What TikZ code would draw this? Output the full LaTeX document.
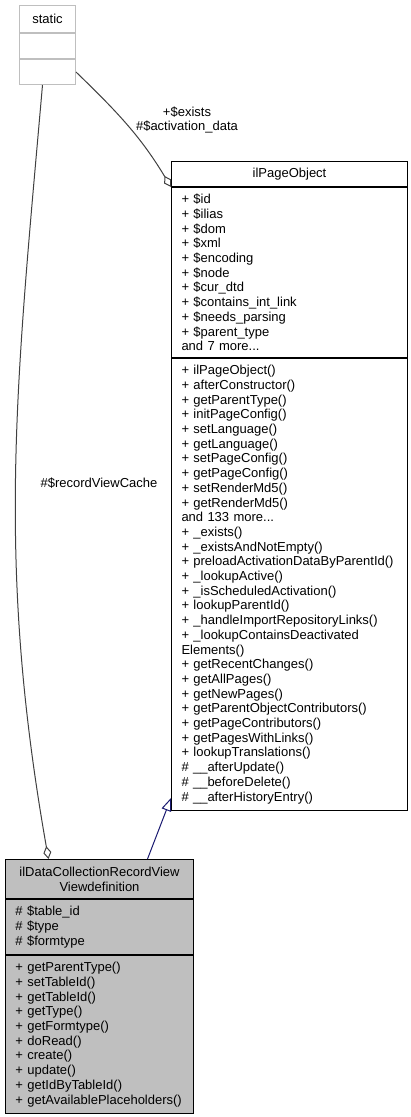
\documentclass[tikz,border=0pt]{standalone}
\usepackage{fontspec}
\setmainfont{Liberation Sans}
\usetikzlibrary{arrows.meta}
\definecolor{grey75}{HTML}{BFBFBF}
\definecolor{grey25}{HTML}{404040}
\definecolor{midblue}{HTML}{191970}
\begin{document}
\begin{tikzpicture}[x=1pt,y=1pt,
  every node/.style={font=\fontsize{13}{14.7}\selectfont, inner sep=0pt},
  part/.style={draw=black, line width=1pt, anchor=north west, align=left, inner xsep=10pt},
  head/.style={part, align=center},
  greypart/.style={part, draw=grey75, minimum width=56pt},
  aggr/.style={grey25, line width=1pt, {Diamond[open,length=13pt,width=8pt]}-},
  inherit/.style={midblue, line width=1pt, -{Triangle[open,length=13pt,width=10pt]}}]
\useasboundingbox (0,0) rectangle (411,-1117);
\node[greypart, align=center, minimum height=27pt] (stattitle) at (19,-5) {static};
\node[greypart, minimum height=25pt] (statattr) at (stattitle.south west) {};
\node[greypart, minimum height=25pt] (statmeth) at (statattr.south west) {};
\node[head, text width=216pt, minimum height=25pt] (pagetitle) at (171,-161) {ilPageObject};
\node[part, text width=216pt, minimum height=170pt] (pageattr) at (pagetitle.south west)
  {+~\$id\\+~\$ilias\\+~\$dom\\+~\$xml\\+~\$encoding\\+~\$node\\+~\$cur\_dtd\\
   +~\$contains\_int\_link\\+~\$needs\_parsing\\+~\$parent\_type\\and~7~more...};
\node[part, text width=216pt, minimum height=452pt] (pagemeth) at (pageattr.south west)
  {+~ilPageObject()\\+~afterConstructor()\\+~getParentType()\\+~initPageConfig()\\
   +~setLanguage()\\+~getLanguage()\\+~setPageConfig()\\+~getPageConfig()\\
   +~setRenderMd5()\\+~getRenderMd5()\\and~133~more...\\+~\_exists()\\
   +~\_existsAndNotEmpty()\\+~preloadActivationDataByParentId()\\+~\_lookupActive()\\
   +~\_isScheduledActivation()\\+~lookupParentId()\\+~\_handleImportRepositoryLinks()\\
   +~\_lookupContainsDeactivated\\Elements()\\+~getRecentChanges()\\+~getAllPages()\\
   +~getNewPages()\\+~getParentObjectContributors()\\+~getPageContributors()\\
   +~getPagesWithLinks()\\+~lookupTranslations()\\\#~\_\_afterUpdate()\\
   \#~\_\_beforeDelete()\\\#~\_\_afterHistoryEntry()};
\node[head, fill=grey75, text width=168pt, minimum height=39pt] (viewtitle) at (5,-859)
  {ilDataCollectionRecordView\\Viewdefinition};
\node[part, fill=grey75, text width=168pt, minimum height=55pt] (viewattr) at (viewtitle.south west)
  {\#~\$table\_id\\\#~\$type\\\#~\$formtype};
\node[part, fill=grey75, text width=168pt, minimum height=158pt] (viewmeth) at (viewattr.south west)
  {+~getParentType()\\+~setTableId()\\+~getTableId()\\+~getType()\\+~getFormtype()\\
   +~doRead()\\+~create()\\+~update()\\+~getIdByTableId()\\+~getAvailablePlaceholders()};
\draw[inherit] ([xshift=48pt]viewtitle.north) -- ([yshift=13pt]pagemeth.south west);
\draw[aggr] ([xshift=-51pt]viewtitle.north) to[out=100,in=-95] ([xshift=-5pt]statmeth.south);
\draw[aggr] (pagetitle.south west) to[out=121,in=-44] (statmeth.east);
\node[align=center] (cachelbl) at (99,-483) {\#\$recordViewCache};
\node[align=center] (existslbl) at (187,-120) {+\$exists\\\#\$activation\_data};
\end{tikzpicture}
\end{document}
